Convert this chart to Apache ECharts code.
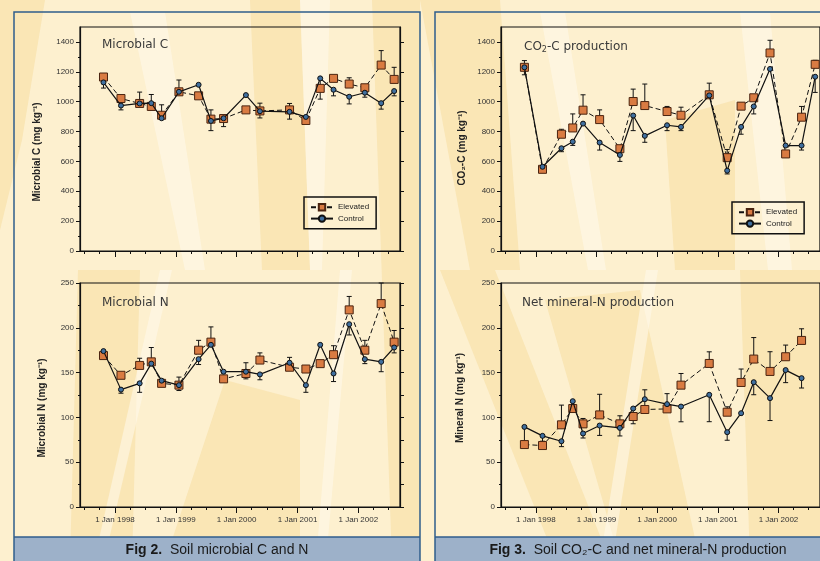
<!DOCTYPE html>
<html>
<head>
<meta charset="utf-8">
<script src="https://cdn.jsdelivr.net/npm/echarts@6/dist/echarts.min.js"></script>
<style>
  html, body { margin: 0; padding: 0; background: #fdf0cf; }
  #chart { width: 820px; height: 561px; }
</style>
</head>
<body>
<div id="chart"></div>
<script>
// sampling dates
const microbialDates = ['1997-10-24', '1998-02-06', '1998-05-29', '1998-08-07', '1998-10-08', '1999-01-20', '1999-05-18', '1999-07-31', '1999-10-15', '2000-02-26', '2000-05-20', '2000-11-14', '2001-02-20', '2001-05-17', '2001-08-05', '2001-11-07', '2002-02-09', '2002-05-18', '2002-08-04'];
const incubationDates = ['1997-10-24', '1998-02-10', '1998-06-04', '1998-08-11', '1998-10-12', '1999-01-20', '1999-05-22', '1999-08-10', '1999-10-19', '2000-03-01', '2000-05-24', '2000-11-10', '2001-02-26', '2001-05-21', '2001-08-05', '2001-11-11', '2002-02-13', '2002-05-20', '2002-08-10'];

// Fig 2 - microbial C (mg/kg)
const microbialCElevated = [1165, 1021, 988, 968, 909, 1066, 1039, 883, 887, 945, 938, 945, 874, 1089, 1156, 1118, 1093, 1245, 1149];
const microbialCElevatedErr = [0, 0, 76, 80, 70, 79, 0, 62, 0, 0, 52, 43, 0, 0, 0, 42, 0, 97, 81];
const microbialCControl = [1129, 974, 988, 990, 889, 1066, 1113, 871, 889, 1044, 936, 932, 898, 1156, 1080, 1033, 1060, 990, 1071];
const microbialCControlErr = [38, 29, 0, 0, 0, 0, 0, 65, 56, 0, 45, 49, 0, 139, 41, 48, 30, 40, 32];

// Fig 2 - microbial N (mg/kg)
const microbialNElevated = [169, 147, 158, 162, 138, 136, 175, 184, 143, 149, 164, 156, 154, 160, 170, 220, 175, 227, 184];
const microbialNElevatedErr = [0, 0, 8, 16, 0, 9, 11, 17, 0, 12, 8, 11, 0, 0, 10, 15, 11, 23, 13];
const microbialNControl = [174, 131, 138, 160, 141, 136, 165, 181, 151, 151, 148, 161, 136, 181, 149, 204, 165, 162, 178];
const microbialNControlErr = [0, 4, 10, 0, 3, 6, 6, 0, 0, 8, 6, 0, 8, 0, 9, 12, 5, 11, 6];

// Fig 3 - CO2-C production (mg/kg)
const co2Elevated = [1230, 547, 782, 824, 943, 880, 685, 1001, 974, 934, 909, 1046, 625, 970, 1026, 1326, 650, 896, 1250];
const co2ElevatedErr = [45, 0, 33, 94, 103, 65, 0, 83, 144, 34, 54, 78, 55, 20, 0, 85, 0, 72, 27];
const co2Control = [1230, 564, 688, 732, 853, 726, 643, 907, 771, 842, 831, 1042, 538, 831, 968, 1219, 706, 706, 1167];
const co2ControlErr = [50, 0, 23, 25, 0, 50, 43, 101, 43, 36, 25, 0, 22, 49, 50, 0, 0, 30, 105];

// Fig 3 - net mineral-N production (mg/kg)
const mineralNElevated = [69.7, 68.6, 91.7, 109.9, 92.8, 102.8, 92.8, 101.0, 108.8, 109.5, 136.0, 160.2, 105.8, 139.0, 165.1, 151.3, 167.7, 185.9];
const mineralNElevatedErr = [0, 0, 22, 0, 6, 23, 9, 0, 22, 17, 13, 13, 6, 15, 24, 22, 13, 13];
const mineralNControl = [89.4, 79.4, 73.4, 118.1, 82.0, 90.9, 88.3, 109.9, 120.3, 114.8, 112.1, 125.2, 83.5, 104.7, 139.3, 121.5, 152.8, 143.8];
const mineralNControlErr = [18, 6, 6, 0, 5, 11, 9, 17, 0, 0, 17, 30, 9, 0, 14, 25, 14, 11];

// axis ticks
const yearTicks = ['1998-01-01', '1999-01-01', '2000-01-01', '2001-01-01', '2002-01-01'];
const carbonTicks = [0, 200, 400, 600, 800, 1000, 1200, 1400];
const carbonMinorTicks = [100, 300, 500, 700, 900, 1100, 1300];
const nitrogenTicks = [0, 50, 100, 150, 200, 250];
const nitrogenMinorTicks = [25, 75, 125, 175, 225];
const nitrogenRightTicks = [0, 25, 50, 75, 100, 125, 150, 175, 200, 225, 250];

// dates -> ms (UTC)
function ts(d) { return Date.parse(d + 'T00:00:00Z'); }

const quarterTicks = [];
for (let y = 1997; y <= 2002; y++) {
  ['01', '04', '07', '10'].forEach(function (m) { quarterTicks.push(ts(y + '-' + m + '-01')); });
}
const X_MIN = ts('1997-06-05');
const X_MAX = ts('2002-09-08');

const plots = [
  { left: 80, top: 27, max: 1500, ticks: carbonTicks, minor: carbonMinorTicks, right: carbonTicks, labels: false,
    dates: microbialDates, elev: microbialCElevated, elevErr: microbialCElevatedErr, ctrl: microbialCControl, ctrlErr: microbialCControlErr },
  { left: 80, top: 283, max: 250, ticks: nitrogenTicks, minor: nitrogenMinorTicks, right: nitrogenRightTicks, labels: true,
    dates: microbialDates, elev: microbialNElevated, elevErr: microbialNElevatedErr, ctrl: microbialNControl, ctrlErr: microbialNControlErr },
  { left: 501, top: 27, max: 1500, ticks: carbonTicks, minor: carbonMinorTicks, right: carbonTicks, labels: false,
    dates: incubationDates, elev: co2Elevated, elevErr: co2ElevatedErr, ctrl: co2Control, ctrlErr: co2ControlErr },
  { left: 501, top: 283, max: 250, ticks: nitrogenTicks, minor: nitrogenMinorTicks, right: nitrogenRightTicks, labels: true,
    dates: incubationDates, elev: mineralNElevated, elevErr: mineralNElevatedErr, ctrl: mineralNControl, ctrlErr: mineralNControlErr }
];

const INK = '#111';
const FONT = '"Liberation Sans", Arial, sans-serif';

function errorBars(name, gi, dates, vals, errs, dir) {
  const rows = [];
  vals.forEach(function (v, k) {
    if (errs[k] > 0) rows.push([ts(dates[k]), v, v + dir * errs[k]]);
  });
  return {
    type: 'custom', name: name, xAxisIndex: gi * 2, yAxisIndex: gi * 3, z: 1, silent: true,
    data: rows,
    encode: { x: 0, y: [1, 2] },
    renderItem: function (params, api) {
      const a = api.coord([api.value(0), api.value(1)]);
      const b = api.coord([api.value(0), api.value(2)]);
      return {
        type: 'group',
        children: [
          { type: 'line', shape: { x1: a[0], y1: a[1], x2: b[0], y2: b[1] }, style: { stroke: INK, lineWidth: 1 } },
          { type: 'line', shape: { x1: b[0] - 2.5, y1: b[1], x2: b[0] + 2.5, y2: b[1] }, style: { stroke: INK, lineWidth: 1 } }
        ]
      };
    }
  };
}

const yearValues = yearTicks.map(ts);
const grid = [], xAxis = [], yAxis = [], series = [];
plots.forEach(function (p, i) {
  grid.push({ left: p.left, top: p.top, width: 320, height: 224, show: true, borderColor: INK, borderWidth: 1.2 });
  // x: year ticks with labels, then quarter ticks
  xAxis.push({
    type: 'value', gridIndex: i, position: 'bottom', min: X_MIN, max: X_MAX,
    axisLine: { lineStyle: { color: INK, width: 1.2 } },
    axisTick: { customValues: yearValues, length: 6, lineStyle: { color: INK } },
    axisLabel: {
      show: p.labels, customValues: yearValues, margin: 9, fontSize: 8, color: '#333', fontFamily: FONT,
      formatter: function (v) { return '1 Jan ' + new Date(v).getUTCFullYear(); }
    },
    splitLine: { show: false }
  });
  xAxis.push({
    type: 'value', gridIndex: i, position: 'bottom', min: X_MIN, max: X_MAX,
    axisLine: { show: false },
    axisTick: { customValues: quarterTicks, length: 3, lineStyle: { color: INK } },
    axisLabel: { show: false },
    splitLine: { show: false }
  });
  // y: labelled ticks, minor ticks, mirrored ticks on the right
  yAxis.push({
    type: 'value', gridIndex: i, position: 'left', min: 0, max: p.max,
    axisLine: { show: true, lineStyle: { color: INK, width: 1.2 } },
    axisTick: { show: true, customValues: p.ticks, length: 4, lineStyle: { color: INK } },
    axisLabel: { customValues: p.ticks, margin: 6, fontSize: 8, color: '#333', fontFamily: FONT,
      formatter: function (v) { return String(v); } },
    splitLine: { show: false }
  });
  yAxis.push({
    type: 'value', gridIndex: i, position: 'left', min: 0, max: p.max,
    axisLine: { show: false },
    axisTick: { show: true, customValues: p.minor, length: 2, lineStyle: { color: INK } },
    axisLabel: { show: false },
    splitLine: { show: false }
  });
  yAxis.push({
    type: 'value', gridIndex: i, position: 'right', min: 0, max: p.max,
    axisLine: { show: true, lineStyle: { color: INK, width: 1.2 } },
    axisTick: { show: true, customValues: p.right, length: 4, lineStyle: { color: INK } },
    axisLabel: { show: false },
    splitLine: { show: false }
  });

  series.push(errorBars('elevErr' + i, i, p.dates, p.elev, p.elevErr, 1));
  series.push(errorBars('ctrlErr' + i, i, p.dates, p.ctrl, p.ctrlErr, -1));
  series.push({
    name: 'Elevated', type: 'line', xAxisIndex: i * 2, yAxisIndex: i * 3, z: 3,
    data: p.elev.map(function (v, k) { return [ts(p.dates[k]), v]; }),
    symbol: 'rect', symbolSize: 8,
    itemStyle: { color: '#d97b42', borderColor: '#4a2410', borderWidth: 1 },
    lineStyle: { color: INK, width: 1, type: [5, 3] }
  });
  series.push({
    name: 'Control', type: 'line', xAxisIndex: i * 2, yAxisIndex: i * 3, z: 4,
    data: p.ctrl.map(function (v, k) { return [ts(p.dates[k]), v]; }),
    symbol: 'circle', symbolSize: 5,
    itemStyle: { color: '#3f6f9f', borderColor: INK, borderWidth: 1 },
    lineStyle: { color: INK, width: 1.2 }
  });
});

const legendBase = {
  orient: 'vertical', data: ['Elevated', 'Control'], selectedMode: false,
  itemWidth: 22, itemHeight: 8, itemGap: 3, padding: [6, 7, 6, 6],
  borderColor: INK, borderWidth: 1.5,
  textStyle: { fontSize: 8, color: '#222', fontFamily: FONT }
};

const titleStyle = { fontSize: 12, fontWeight: 'normal', color: '#3a3a3a', fontFamily: '"DejaVu Sans", sans-serif',
  rich: { s: { fontSize: 8, color: '#3a3a3a', fontFamily: '"DejaVu Sans", sans-serif', verticalAlign: 'bottom', padding: [7, 0, 0, 0] } } };

// background bands
const DARK = 'rgba(245,214,140,0.38)';
const LIGHT = 'rgba(255,250,236,0.55)';
const bands = [
  [[0, 0], [45, 0], [22, 140], [0, 230], DARK],
  [[250, 0], [300, 0], [310, 270], [262, 270], DARK],
  [[300, 0], [330, 0], [322, 270], [310, 270], LIGHT],
  [[130, 12], [165, 12], [205, 270], [185, 270], LIGHT],
  [[78, 270], [140, 270], [132, 561], [70, 561], DARK],
  [[160, 270], [172, 270], [104, 561], [94, 561], LIGHT],
  [[165, 561], [225, 380], [300, 400], [300, 561], DARK],
  [[340, 270], [352, 270], [326, 561], [316, 561], LIGHT],
  [[372, 0], [420, 0], [420, 561], [392, 561], DARK],
  [[420, 0], [500, 0], [520, 270], [470, 270], DARK],
  [[540, 12], [565, 12], [606, 270], [588, 270], LIGHT],
  [[665, 120], [735, 100], [735, 270], [675, 270], DARK],
  [[740, 12], [770, 12], [792, 270], [768, 270], LIGHT],
  [[440, 270], [495, 270], [610, 561], [556, 561], DARK],
  [[545, 300], [640, 290], [700, 561], [620, 561], DARK],
  [[740, 270], [820, 270], [820, 561], [750, 561], DARK],
  [[646, 270], [658, 270], [612, 561], [600, 561], LIGHT]
];

const graphic = bands.map(function (b) {
  return { type: 'polygon', z: -10, silent: true, shape: { points: b.slice(0, 4) }, style: { fill: b[4] } };
});

// y axis names
[
  ['Microbial C (mg kg⁻¹)', 37, 152],
  ['Microbial N (mg kg⁻¹)', 42, 408],
  ['CO₂-C (mg kg⁻¹)', 462, 148],
  ['Mineral N (mg kg⁻¹)', 460, 398]
].forEach(function (t) {
  graphic.push({
    type: 'text', x: t[1], y: t[2], rotation: Math.PI / 2, silent: true,
    style: { text: t[0], font: 'bold 10px ' + FONT, fill: '#222', align: 'center', verticalAlign: 'middle' }
  });
});

// caption bars and panel frames
graphic.push(
  { type: 'rect', z: 5, shape: { x: 14, y: 537, width: 406, height: 30 }, style: { fill: '#9db1c9' } },
  { type: 'rect', z: 5, shape: { x: 435, y: 537, width: 400, height: 30 }, style: { fill: '#9db1c9' } },
  { type: 'line', z: 6, shape: { x1: 14, y1: 537, x2: 420, y2: 537 }, style: { stroke: '#2f5d8c', lineWidth: 1.5 } },
  { type: 'line', z: 6, shape: { x1: 435, y1: 537, x2: 820, y2: 537 }, style: { stroke: '#2f5d8c', lineWidth: 1.5 } },
  { type: 'rect', z: 6, shape: { x: 14, y: 12, width: 406, height: 560 }, style: { fill: 'none', stroke: '#2f5d8c', lineWidth: 1.5 } },
  { type: 'rect', z: 6, shape: { x: 435, y: 12, width: 400, height: 560 }, style: { fill: 'none', stroke: '#2f5d8c', lineWidth: 1.5 } },
  {
    type: 'text', z: 7, x: 217, y: 550,
    style: { text: '{b|Fig 2.}  Soil microbial C and N', font: '14px ' + FONT, fill: '#1a1a1a', align: 'center', verticalAlign: 'middle',
      rich: { b: { fontWeight: 'bold', fontSize: 14, fontFamily: FONT, fill: '#1a1a1a' } } }
  },
  {
    type: 'text', z: 7, x: 638, y: 550,
    style: { text: '{b|Fig 3.}  Soil CO₂-C and net mineral-N production', font: '14px ' + FONT, fill: '#1a1a1a', align: 'center', verticalAlign: 'middle',
      rich: { b: { fontWeight: 'bold', fontSize: 14, fontFamily: FONT, fill: '#1a1a1a' } } }
  }
);

const chart = echarts.init(document.getElementById('chart'), null, { renderer: 'canvas' });
chart.setOption({
  backgroundColor: '#fdf0cf',
  animation: false,
  title: [
    { text: 'Microbial C', left: 102, top: 39, padding: 0, textStyle: titleStyle },
    { text: 'Microbial N', left: 102, top: 297, padding: 0, textStyle: titleStyle },
    { text: 'CO{s|2}-C production', left: 524, top: 39, padding: 0, textStyle: titleStyle },
    { text: 'Net mineral-N production', left: 522, top: 297, padding: 0, textStyle: titleStyle }
  ],
  legend: [
    Object.assign({ left: 304, top: 197 }, legendBase),
    Object.assign({ left: 732, top: 202 }, legendBase)
  ],
  grid: grid,
  xAxis: xAxis,
  yAxis: yAxis,
  series: series,
  graphic: graphic
});
</script>
</body>
</html>
